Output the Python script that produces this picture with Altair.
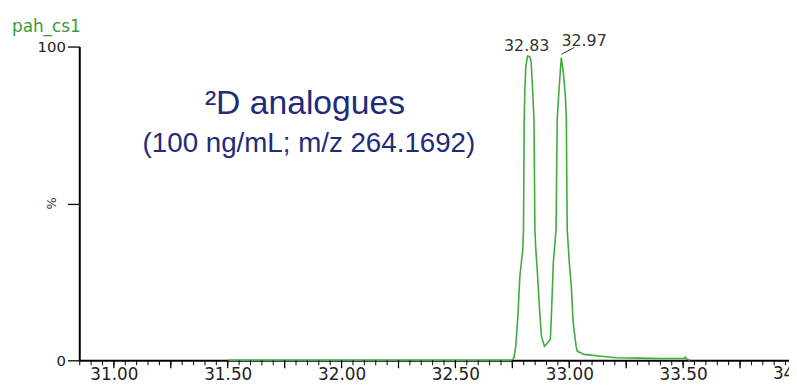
import altair as alt
import pandas as pd

# chromatogram trace (retention time, min ; relative intensity %)
rt = [31.50, 32.748, 32.757, 32.765, 32.774, 32.783, 32.796, 32.799, 32.802, 32.805,
      32.809, 32.817, 32.826, 32.832, 32.839, 32.845, 32.849, 32.853, 32.861, 32.870,
      32.878, 32.891, 32.900, 32.917, 32.922, 32.930, 32.942, 32.947, 32.955, 32.965,
      32.974, 32.983, 32.987, 32.991, 33.000, 33.009, 33.017, 33.030, 33.035, 33.065,
      33.139, 33.209, 33.300, 33.400, 33.505, 33.510, 33.515, 33.530]
inten = [0.0, 0.0, 0.8, 4.5, 13.7, 26.8, 35.4, 41.7, 76.8, 86.3,
         93.6, 97.0, 96.8, 95.5, 86.3, 76.8, 41.7, 35.4, 26.8, 15.3,
         7.6, 4.5, 5.1, 6.7, 15.3, 31.2, 41.7, 76.8, 86.3, 96.5,
         91.7, 84.1, 76.8, 41.7, 31.2, 23.6, 12.1, 4.5, 2.9, 1.9,
         1.3, 0.8, 0.7, 0.6, 0.6, 1.0, 0.4, 0.0]

peak_rt = [32.826, 32.965]
peak_int = [97.0, 96.5]
peak_lbl = ["32.83", "32.97"]

x_labels = [31.00, 31.50, 32.00, 32.50, 33.00, 33.50]
edge_label = [34.00]
major_ticks = [30.75 + 0.25 * i for i in range(13)]
minor_ticks = [round(30.85 + 0.05 * i, 2) for i in range(63)]
y_ticks = [0, 50, 100]

W, H = 717, 317
xs = alt.Scale(domain=[30.848, 33.965], nice=False, zero=False)
ys = alt.Scale(domain=[0, 100], nice=False, zero=False)
FONT = "Liberation Sans"
WIDE = "DejaVu Sans"

trace = pd.DataFrame({"rt": rt, "i": inten})
line = alt.Chart(trace).mark_line(color="#3faa3f", strokeWidth=1.6, clip=False).encode(
    x=alt.X("rt:Q", scale=xs, axis=alt.Axis(
        values=x_labels, format=".2f", title=None, grid=False, tickSize=0,
        domainColor="black", domainWidth=2, labelFontSize=17, labelFont=WIDE,
        labelColor="#222", labelPadding=6, labelFlush=False, labelOverlap=False)),
    y=alt.Y("i:Q", scale=ys, axis=alt.Axis(
        values=y_ticks, title=None, grid=False, tickSize=12, tickColor="black",
        tickWidth=1.3, domainColor="black", domainWidth=2, labelFontSize=15,
        labelFont=WIDE, labelColor="#222", labelPadding=2,
        labelExpr="datum.value == 50 ? '' : datum.label")),
)

minor = alt.Chart(pd.DataFrame({"t": [t for t in minor_ticks if t < 33.96]})).mark_rule(
    color="black", strokeWidth=1).encode(
    x=alt.X("t:Q", scale=xs), y=alt.value(H), y2=alt.value(H + 5))
major = alt.Chart(pd.DataFrame({"t": [t for t in major_ticks if 30.85 < t < 33.96]})).mark_rule(
    color="black", strokeWidth=1.3).encode(
    x=alt.X("t:Q", scale=xs), y=alt.value(H), y2=alt.value(H + 8))
edge = alt.Chart(pd.DataFrame({"t": edge_label})).mark_text(
    font=WIDE, fontSize=17, color="#222", baseline="top").encode(
    x=alt.X("t:Q", scale=xs), y=alt.value(H + 6),
    text=alt.Text("t:Q", format=".2f"))

pk = pd.DataFrame({"rt": peak_rt, "i": peak_int, "lbl": peak_lbl})
lbl1 = alt.Chart(pk.iloc[[0]]).mark_text(font=WIDE, fontSize=16, color="#333", dy=-10, dx=-3).encode(
    x=alt.X("rt:Q", scale=xs), y=alt.Y("i:Q", scale=ys), text="lbl:N")
lbl2 = alt.Chart(pk.iloc[[1]]).mark_text(font=WIDE, fontSize=16, color="#333", dy=-17, dx=23).encode(
    x=alt.X("rt:Q", scale=xs), y=alt.Y("i:Q", scale=ys), text="lbl:N")
leader = alt.Chart(pd.DataFrame({"x": [32.965], "x2": [33.022], "y": [97.5], "y2": [99.7]})).mark_rule(
    color="#333", strokeWidth=1).encode(
    x=alt.X("x:Q", scale=xs), x2="x2:Q",
    y=alt.Y("y:Q", scale=ys), y2="y2:Q")

pct = alt.Chart(pd.DataFrame({"t": ["%"]})).mark_text(
    font=WIDE, fontSize=13, color="#333", angle=270).encode(
    x=alt.value(-28), y=alt.value(H / 2), text="t:N")
name = alt.Chart(pd.DataFrame({"t": ["pah_cs1"]})).mark_text(
    font=WIDE, fontSize=17, color="#3a9a3a", align="left").encode(
    x=alt.value(-68), y=alt.value(-20), text="t:N")
ttl1 = alt.Chart(pd.DataFrame({"t": ["\u00b2D analogues"]})).mark_text(
    font=FONT, fontSize=34, color="#1f2b7b", baseline="alphabetic").encode(
    x=alt.value(228), y=alt.value(68), text="t:N")
ttl2 = alt.Chart(pd.DataFrame({"t": ["(100 ng/mL; m/z 264.1692)"]})).mark_text(
    font=FONT, fontSize=28, color="#1f2b7b", baseline="alphabetic").encode(
    x=alt.value(232), y=alt.value(107), text="t:N")

chart = alt.layer(line, minor, major, edge, leader, lbl1, lbl2, pct, name, ttl1, ttl2).properties(
    width=W, height=H,
    background="white",
    autosize=alt.AutoSizeParams(type="none"),
    padding={"left": 72, "top": 37, "right": 0, "bottom": 23},
).configure_view(stroke=None).configure_axis(grid=False)

chart.save("out.html", embed_options={"renderer": "svg", "actions": False})
